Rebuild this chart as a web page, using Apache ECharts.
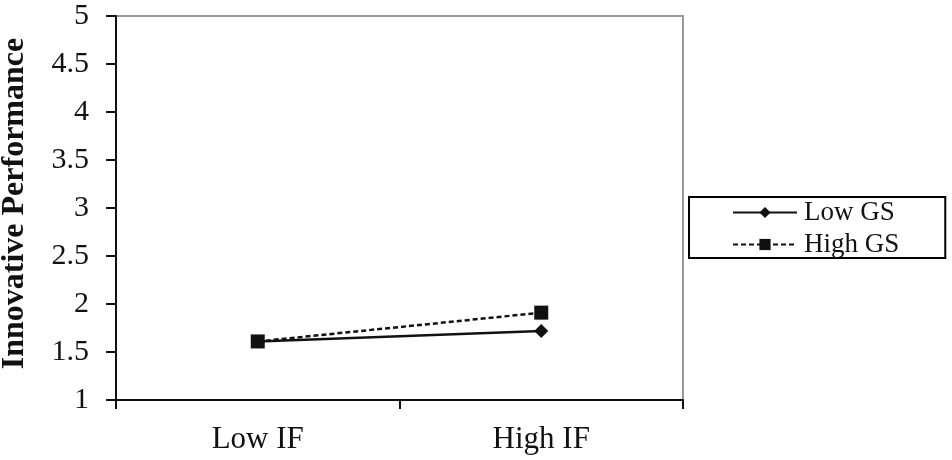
<!DOCTYPE html>
<html>
<head>
<meta charset="utf-8">
<script src="https://cdn.jsdelivr.net/npm/echarts@6/dist/echarts.min.js"></script>
<style>html,body{margin:0;padding:0;background:#fff;}#c{width:952px;height:460px;}</style>
</head>
<body>
<div id="c"></div>
<script>
var categories = ['Low IF', 'High IF'];
var lowGS = [1.61, 1.72];
var highGS = [1.61, 1.91];
var yTicks = [1, 1.5, 2, 2.5, 3, 3.5, 4, 4.5, 5];
var seriesNames = ['Low GS', 'High GS'];

var font = '"Liberation Serif", "Times New Roman", serif';
var chart = echarts.init(document.getElementById('c'));
chart.setOption({
  backgroundColor: '#fff',
  animation: false,
  grid: {left: 116, top: 16, right: 269, bottom: 60, show: true, borderColor: '#9a9a9a', borderWidth: 2, backgroundColor: 'transparent', containLabel: false, outerBoundsMode: 'none'},
  legend: {
    orient: 'vertical', left: 689, top: 197,
    padding: [2, 46, 0, 43],
    borderColor: '#000', borderWidth: 2, itemGap: 5,
    itemWidth: 64, itemHeight: 14,
    textStyle: {fontFamily: font, fontSize: 27, color: '#111', padding: [0, 0, 0, 2]},
    data: seriesNames
  },
  xAxis: {
    type: 'category', data: categories, boundaryGap: true,
    axisLine: {lineStyle: {color: '#111', width: 2}},
    axisTick: {show: true, length: 9, lineStyle: {color: '#111', width: 2}},
    axisLabel: {fontFamily: font, fontSize: 31, color: '#111', margin: 24}
  },
  yAxis: {
    type: 'value', min: yTicks[0], max: yTicks[yTicks.length - 1], interval: 0.5,
    name: 'Innovative Performance', nameLocation: 'middle', nameGap: 85,
    nameTextStyle: {fontFamily: font, fontSize: 32, fontWeight: 'bold', color: '#111', padding: [0, 0, 0, 9]},
    axisLine: {show: true, lineStyle: {color: '#111', width: 2}},
    axisTick: {show: true, length: 10, lineStyle: {color: '#111', width: 2}},
    splitLine: {show: false},
    axisLabel: {fontFamily: font, fontSize: 30, color: '#111', margin: 27}
  },
  series: [
    {name: seriesNames[0], type: 'line', data: lowGS, symbol: 'diamond', symbolSize: 14,
     itemStyle: {color: '#111'}, lineStyle: {color: '#111', width: 2.5, type: 'solid'}},
    {name: seriesNames[1], type: 'line', data: highGS, symbol: 'rect', symbolSize: 14,
     itemStyle: {color: '#111'}, lineStyle: {color: '#111', width: 2.5, type: [5, 3]}}
  ]
});
</script>
</body>
</html>
